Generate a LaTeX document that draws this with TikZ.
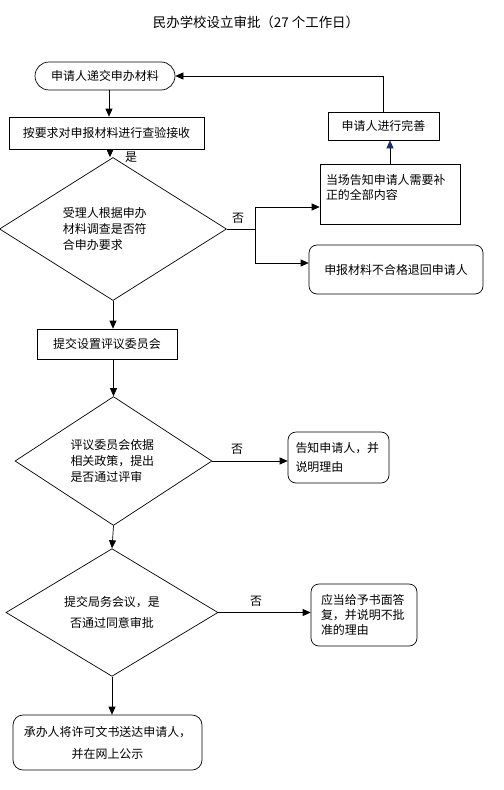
\documentclass[tikz,border=0pt]{standalone}
\usepackage{fontspec}
\newfontfamily\cjk{Noto Sans CJK SC}
\usetikzlibrary{arrows.meta,shapes.geometric}

\definecolor{tipnavy}{RGB}{25,45,110}

\tikzset{
  flow/.style={draw, line width=0.7pt, inner sep=2pt,
    font=\cjk\fontsize{12}{16}\selectfont},
  stepbox/.style={flow, rectangle},
  roundbox/.style={flow, rectangle, rounded corners=8bp},
  decide/.style={flow, diamond, inner sep=0pt},
  arr/.style={line width=0.7pt, -{Triangle[length=8bp,width=7bp]}},
  conn/.style={line width=0.7pt},
  tag/.style={inner sep=0pt, font=\cjk\fontsize{12}{14}\selectfont}
}

\begin{document}
\begin{tikzpicture}[x=1bp,y=-1bp]
  % Page frame
  \useasboundingbox (0,0) rectangle (504,790);

  % Title
  \node[font=\cjk\fontsize{13.5}{15}\selectfont] (title) at (256,22) {民办学校设立审批（27 个工作日）};

  % Main column
  \node[stepbox, rounded corners=14bp, minimum width=140bp, minimum height=28bp] (start) at (105,76) {申请人递交申办材料};
  \node[stepbox, minimum width=195bp, minimum height=32bp] (check) at (106.5,133) {按要求对申报材料进行查验接收};
  \node[decide, minimum width=227bp, minimum height=112bp, text width=100bp, align=left] (d1) at (113,229)
    {受理人根据申办\\材料调查是否符\\合申办要求};
  \node[stepbox, minimum width=140bp, minimum height=30bp] (review) at (107,344) {提交设置评议委员会};
  \node[decide, minimum width=197bp, minimum height=115bp, text width=86bp, align=left] (d2) at (113.5,461)
    {评议委员会依据\\相关政策，提出\\是否通过评审};
  \node[decide, minimum width=212bp, minimum height=107bp, align=center,
    font=\cjk\fontsize{12}{21}\selectfont] (d3) at (112,612.5)
    {提交局务会议，是\\否通过同意审批};
  \node[roundbox, rounded corners=10bp, minimum width=189bp, minimum height=55bp, align=center,
    font=\cjk\fontsize{12}{22}\selectfont] (issue) at (107.5,742.5)
    {承办人将许可文书送达申请人，\\并在网上公示};

  % Right column
  \node[stepbox, minimum width=111bp, minimum height=28bp] (perfect) at (383.5,126) {申请人进行完善};
  \node[stepbox, minimum width=140bp, minimum height=60bp, text width=128bp, align=left,
    font=\cjk\fontsize{12}{15}\selectfont] (notify) at (390,194)
    {当场告知申请人需要补\\正的全部内容\\\mbox{}};
  \node[roundbox, minimum width=174bp, minimum height=49bp] (reject) at (396,269.5) {申报材料不合格退回申请人};
  \node[roundbox, minimum width=101bp, minimum height=51bp, text width=86bp, align=left,
    font=\cjk\fontsize{12}{19}\selectfont] (inform) at (338.5,457.5)
    {告知申请人，并\\说明理由};
  \node[roundbox, minimum width=106bp, minimum height=62bp, text width=86bp, align=left,
    font=\cjk\fontsize{12}{15}\selectfont] (reply) at (364,615)
    {应当给予书面答\\复，并说明不批\\准的理由};

  % Branch labels
  \node[tag] (yes1) at (131,157) {是};
  \node[tag] (no1) at (238,218) {否};
  \node[tag] (no2) at (237,449) {否};
  \node[tag] (no3) at (256,601) {否};

  % Fork points after the first check
  \coordinate (forkup) at (255,207);
  \coordinate (forkdn) at (255,263);

  % Connectors
  \draw[arr] ([xshift=4bp]start.south) -- ([xshift=4bp]start.south |- check.north);
  \draw[arr] ([xshift=3.5bp]check.south) -- ([xshift=3.5bp]check.south |- d1.north);
  \draw[arr] (d1.east) -| (forkup) -- (forkup -| notify.west);
  \draw[arr] (d1.east) -| (forkdn) -- (forkdn -| reject.west);
  \draw[conn, -{Triangle[length=8bp,width=7bp,color=tipnavy]}] (notify.north) -- (notify.north |- perfect.south);
  \draw[arr] (perfect.north) |- (start.east);
  \draw[arr] (d1.south) -- (d1.south |- review.north);
  \draw[arr] (review.south -| d2.north) -- (d2.north);
  \draw[arr] (d2.east) -- (d2.east -| inform.west);
  \draw[arr] (d2.south) -- (d3.north);
  \draw[arr] (d3.east) -- (d3.east -| reply.west);
  \draw[arr] (d3.south) -- (d3.south |- issue.north);
\end{tikzpicture}
\end{document}
